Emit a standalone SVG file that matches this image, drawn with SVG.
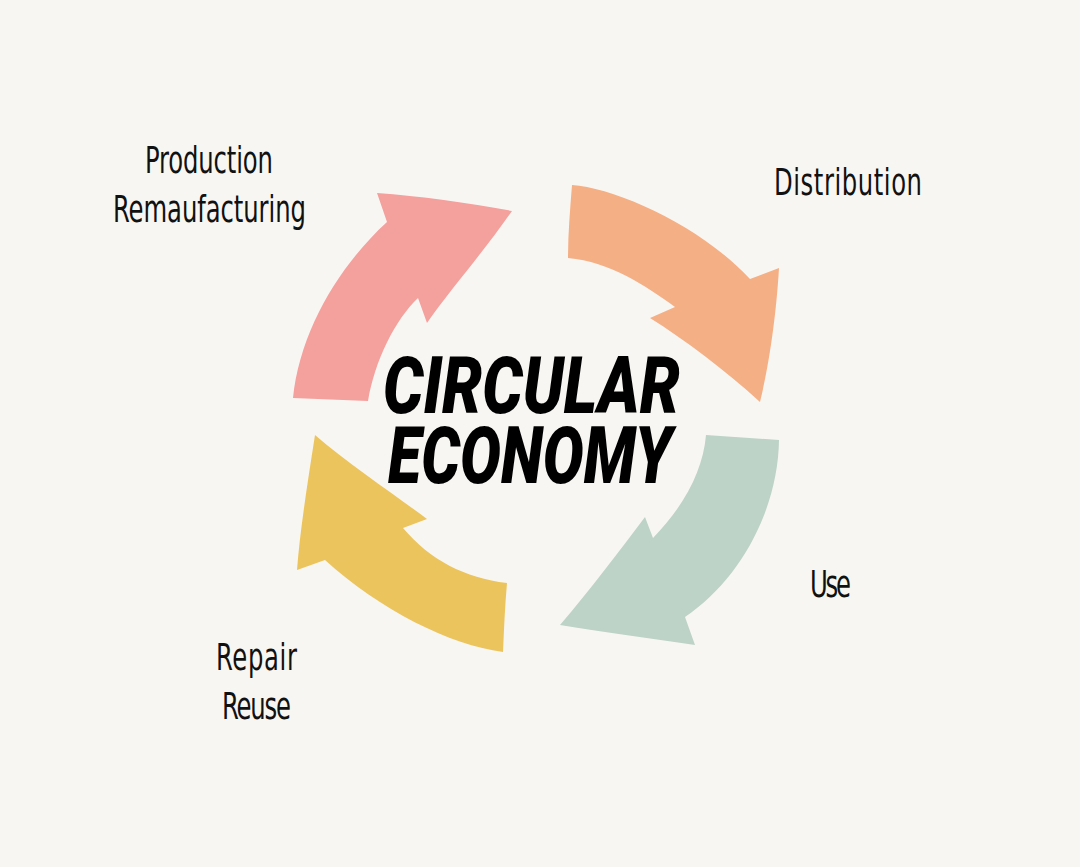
<svg xmlns="http://www.w3.org/2000/svg" width="1080" height="867" viewBox="0 0 1080 867">
<style>
.lbl{font-family:"Liberation Sans Narrow","DejaVu Sans Condensed","Liberation Sans",sans-serif;font-size:27px;fill:#111;font-weight:300}
.title{font-family:Roboto,"Liberation Sans",sans-serif;font-weight:900;font-style:italic;font-size:80px;fill:#000}
</style>
<rect width="1080" height="867" fill="#F8F6F2"/>
<g id="connectors">
<g id="arrow-production">
<path fill="#F4A09D" d="M293,398 C300,330 340,265 387,222 L377,193 C420,196 470,203 512,211 C485,250 450,290 427,323 L418,298 C395,320 375,360 368,401 Z"/>
</g>
<g id="arrow-distribution">
<path fill="#F4AF85" d="M572,185 C615,188 700,225 750,279 L779,268 C776,320 768,370 760,402 C725,370 685,340 650,318 L675,307 C645,285 610,262 568,258 C568,235 570,210 572,185 Z"/>
</g>
<g id="arrow-use">
<path fill="#BDD3C8" d="M706,435 L779,440 C778,510 740,580 685,617 L695,645 C650,638 600,632 560,625 C590,590 620,550 645,517 L653,538 C685,505 703,470 706,435 Z"/>
</g>
<g id="arrow-repair">
<path fill="#EBC45E" d="M315,435 C350,465 395,495 427,519 L403,528 C430,560 465,578 507,583 C505,605 504,628 503,652 C450,645 380,610 325,560 L297,570 C300,530 308,480 315,435 Z"/>
</g>
</g>
<g id="node-title">
<text class="title" x="383" y="413" textLength="297" lengthAdjust="spacingAndGlyphs">CIRCULAR</text>
<text class="title" x="388" y="483" textLength="284" lengthAdjust="spacingAndGlyphs">ECONOMY</text>
</g>
<g id="node-production">
<text class="lbl" transform="translate(145,173) scale(1,1.4)" textLength="128" lengthAdjust="spacing">Production</text>
<text class="lbl" transform="translate(113,222) scale(1,1.4)" textLength="193" lengthAdjust="spacing">Remaufacturing</text>
</g>
<g id="node-distribution">
<text class="lbl" transform="translate(774,195) scale(1,1.4)" textLength="148" lengthAdjust="spacing">Distribution</text>
</g>
<g id="node-use">
<text class="lbl" transform="translate(810,597) scale(1,1.4)" textLength="41" lengthAdjust="spacing">Use</text>
</g>
<g id="node-repair">
<text class="lbl" transform="translate(216,670) scale(1,1.4)" textLength="81" lengthAdjust="spacing">Repair</text>
<text class="lbl" transform="translate(222,719) scale(1,1.4)" textLength="69" lengthAdjust="spacing">Reuse</text>
</g>
</svg>
